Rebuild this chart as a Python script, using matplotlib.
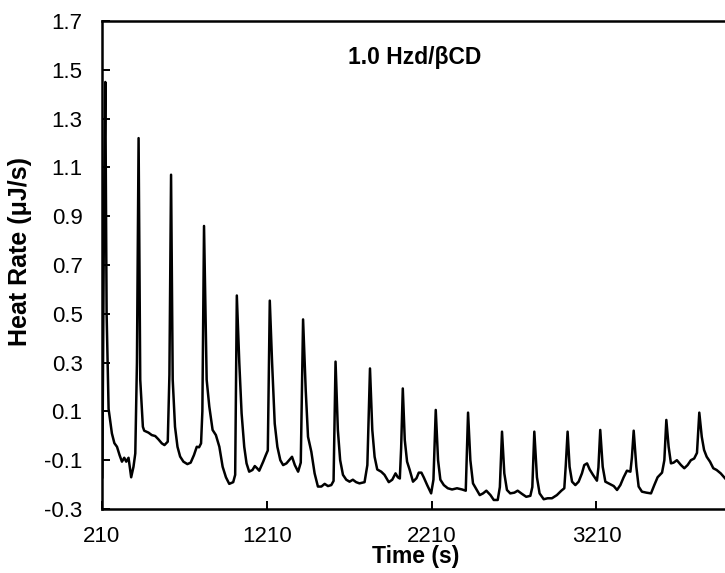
import matplotlib
matplotlib.use("Agg")
import matplotlib.pyplot as plt

plt.rcParams['font.family'] = ['Liberation Sans', 'DejaVu Sans']

# Time (s) and heat rate (uJ/s)
time_s = [
    212, 222, 230, 238, 250, 270, 285, 301, 317, 331, 345, 357, 371, 387, 401, 412, 422,
    432, 442, 458, 466, 492, 512, 533, 553, 573, 589, 609, 619,
    629, 639, 653, 668, 684, 704, 728, 748, 768, 785, 799, 811, 819,
    829, 845, 861, 881, 901, 922, 942, 962, 982, 1006, 1018,
    1028, 1043, 1057, 1073, 1087, 1103, 1123, 1137, 1151, 1164, 1188, 1204, 1216,
    1228, 1242, 1258, 1274, 1292, 1309, 1329, 1349, 1363, 1380, 1400, 1416,
    1430, 1446, 1460, 1480, 1500, 1520, 1541, 1561, 1581, 1601, 1615,
    1627, 1641, 1655, 1672, 1692, 1712, 1732, 1752, 1772, 1803, 1820,
    1836, 1850, 1864, 1880, 1904, 1924, 1950, 1971, 1991, 2005, 2017, 2025,
    2035, 2047, 2061, 2077, 2097, 2118, 2132, 2148, 2162, 2183, 2207, 2221,
    2235, 2249, 2263, 2284, 2308, 2334, 2364, 2395, 2417,
    2431, 2445, 2461, 2482, 2502, 2522, 2542, 2567, 2587, 2611, 2624,
    2637, 2651, 2667, 2687, 2712, 2732, 2758, 2784, 2809, 2821,
    2833, 2849, 2865, 2890, 2914, 2940, 2970, 2997, 3015, 3024,
    3035, 3047, 3062, 3082, 3102, 3122, 3136, 3153, 3169, 3189, 3213, 3222,
    3233, 3248, 3264, 3290, 3315, 3335, 3355, 3375, 3395, 3416, 3425,
    3436, 3452, 3466, 3486, 3513, 3541, 3561, 3581, 3608, 3622,
    3634, 3648, 3662, 3678, 3698, 3723, 3743, 3763, 3783, 3803, 3820,
    3834, 3849, 3863, 3879, 3899, 3919, 3939, 3964, 3990,
]
heat_rate = [
    -0.17, 0.90, 1.45, 0.50, 0.11, 0.01, -0.03, -0.045, -0.08, -0.106, -0.09, -0.106, -0.09, -0.17, -0.127, -0.072, 0.30,
    1.22, 0.23, 0.037, 0.021, 0.013, 0.003, -0.001, -0.015, -0.031, -0.038, -0.024, 0.25,
    1.07, 0.23, 0.037, -0.045, -0.085, -0.106, -0.116, -0.11, -0.079, -0.045, -0.047, -0.031, 0.10,
    0.86, 0.23, 0.12, 0.024, 0.003, -0.045, -0.127, -0.17, -0.197, -0.19, -0.16,
    0.575, 0.30, 0.092, -0.045, -0.113, -0.147, -0.14, -0.124, -0.133, -0.143, -0.106, -0.079, -0.06,
    0.554, 0.30, 0.05, -0.045, -0.10, -0.12, -0.113, -0.097, -0.086, -0.12, -0.147, -0.11,
    0.477, 0.188, -0.004, -0.065, -0.154, -0.208, -0.208, -0.197, -0.206, -0.202, -0.185,
    0.304, 0.024, -0.10, -0.16, -0.18, -0.188, -0.18, -0.19, -0.195, -0.19, -0.12,
    0.276, 0.024, -0.086, -0.138, -0.147, -0.16, -0.19, -0.18, -0.154, -0.17, -0.175, -0.05,
    0.194, -0.017, -0.106, -0.14, -0.188, -0.174, -0.151, -0.151, -0.17, -0.202, -0.236, -0.18,
    0.106, -0.10, -0.18, -0.202, -0.215, -0.22, -0.215, -0.22, -0.225,
    0.095, -0.10, -0.195, -0.22, -0.243, -0.236, -0.225, -0.243, -0.263, -0.263, -0.21,
    0.017, -0.154, -0.222, -0.236, -0.233, -0.225, -0.238, -0.25, -0.246, -0.21,
    0.017, -0.17, -0.236, -0.26, -0.256, -0.256, -0.243, -0.225, -0.215, -0.12,
    0.017, -0.127, -0.188, -0.202, -0.188, -0.154, -0.12, -0.113, -0.138, -0.16, -0.184, -0.13,
    0.024, -0.127, -0.188, -0.197, -0.206, -0.222, -0.202, -0.17, -0.143, -0.147, -0.09,
    0.021, -0.127, -0.208, -0.229, -0.233, -0.236, -0.202, -0.17, -0.151, -0.10,
    0.065, -0.045, -0.113, -0.11, -0.10, -0.12, -0.133, -0.12, -0.10, -0.093, -0.07,
    0.095, -0.004, -0.058, -0.086, -0.106, -0.133, -0.14, -0.154, -0.174,
]

x_ticks = [210, 1210, 2210, 3210]
y_ticks = [-0.3, -0.1, 0.1, 0.3, 0.5, 0.7, 0.9, 1.1, 1.3, 1.5, 1.7]
title_text = "1.0 Hzd/βCD"

fig = plt.figure(figsize=(7.25, 5.73), dpi=100)
ax = fig.add_axes([102/725, 1 - 509/573, 1 - 102/725, (509 - 21)/573])

ax.plot(time_s, heat_rate, color='black', linewidth=1.8, solid_joinstyle='round')

ax.set_xlim(210, 3990)
ax.set_ylim(-0.3, 1.7)
ax.set_xticks(x_ticks)
ax.set_xticklabels([str(t) for t in x_ticks])
ax.set_yticks(y_ticks)
ax.set_yticklabels([f"{v:.1f}" for v in y_ticks])

for s in ['left', 'bottom', 'top']:
    ax.spines[s].set_linewidth(1.8)
ax.spines['right'].set_visible(False)

ax.tick_params(axis='both', direction='in', length=6, width=1.4,
               labelsize=16, colors='black')
ax.tick_params(axis='y', pad=14)
ax.tick_params(axis='x', pad=12)

ax.text(0.502, 0.926, title_text, transform=ax.transAxes, ha='center', va='center',
        fontsize=16.5, fontweight='bold')

fig.text(20/725, 1 - 252/573, "Heat Rate (μJ/s)", rotation=90, ha='center', va='center',
         fontsize=18, fontweight='bold')
fig.text(416/725, 1 - 557/573, "Time (s)", ha='center', va='center',
         fontsize=16.5, fontweight='bold')

fig.savefig("out.png", dpi=100)
